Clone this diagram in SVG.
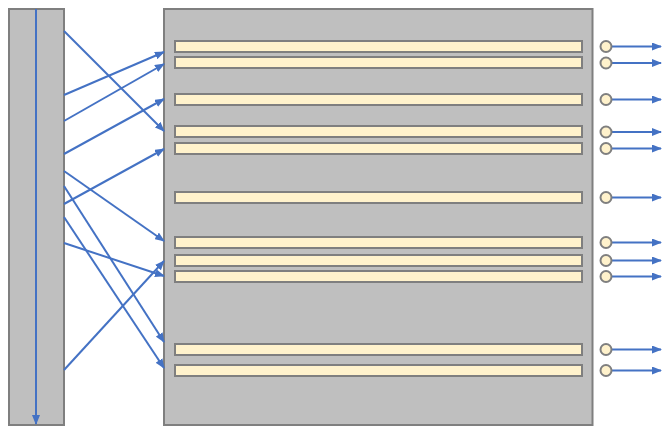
<svg xmlns="http://www.w3.org/2000/svg" width="672" height="431" viewBox="0 0 672 431">
<style>
.panel{fill:#bfbfbf;stroke:#7f7f7f;stroke-width:2}
.bar{fill:#fff2cc;stroke:#7f7f7f;stroke-width:2}
.port{fill:#fff2cc;stroke:#7f7f7f;stroke-width:2}
.wire{fill:none;stroke:#4472c4;stroke-width:2;marker-end:url(#ah)}
</style>
<defs>
<marker id="ah" markerWidth="10" markerHeight="8" refX="9" refY="4" orient="auto" markerUnits="userSpaceOnUse">
<path d="M0,0 L10,4 L0,8 Z" fill="#4472c4"/>
</marker>
</defs>
<g id="left-panel"><rect class="panel" x="9" y="9" width="55" height="416"/></g>
<g id="right-panel">
<rect class="panel" x="164" y="9" width="428.5" height="416"/>
</g>
<g id="bars">
<rect id="bar1" class="bar" x="175" y="41" width="407" height="11"/>
<rect id="bar2" class="bar" x="175" y="57" width="407" height="11"/>
<rect id="bar3" class="bar" x="175" y="94" width="407" height="11"/>
<rect id="bar4" class="bar" x="175" y="126" width="407" height="11"/>
<rect id="bar5" class="bar" x="175" y="143" width="407" height="11"/>
<rect id="bar6" class="bar" x="175" y="192" width="407" height="11"/>
<rect id="bar7" class="bar" x="175" y="237" width="407" height="11"/>
<rect id="bar8" class="bar" x="175" y="255" width="407" height="11"/>
<rect id="bar9" class="bar" x="175" y="271" width="407" height="11"/>
<rect id="bar10" class="bar" x="175" y="344" width="407" height="11"/>
<rect id="bar11" class="bar" x="175" y="365" width="407" height="11"/>
</g>
<g id="connectors">
<line class="wire" x1="36" y1="9" x2="36" y2="424"/>
<line class="wire" x1="64" y1="31" x2="164" y2="131"/>
<line class="wire" x1="64" y1="95" x2="164" y2="52"/>
<line class="wire" x1="64" y1="121" x2="164" y2="64"/>
<line class="wire" x1="64" y1="154" x2="164" y2="99"/>
<line class="wire" x1="64" y1="204" x2="164" y2="149"/>
<line class="wire" x1="64" y1="171" x2="164" y2="241"/>
<line class="wire" x1="64" y1="186" x2="164" y2="342"/>
<line class="wire" x1="64" y1="217" x2="164" y2="368"/>
<line class="wire" x1="64" y1="243" x2="164" y2="276"/>
<line class="wire" x1="64" y1="370" x2="164" y2="261"/>
<line class="wire" x1="612" y1="46.5" x2="661" y2="46.5"/>
<line class="wire" x1="612" y1="63" x2="661" y2="63"/>
<line class="wire" x1="612" y1="99.5" x2="661" y2="99.5"/>
<line class="wire" x1="612" y1="132" x2="661" y2="132"/>
<line class="wire" x1="612" y1="148.5" x2="661" y2="148.5"/>
<line class="wire" x1="612" y1="197.5" x2="661" y2="197.5"/>
<line class="wire" x1="612" y1="242.5" x2="661" y2="242.5"/>
<line class="wire" x1="612" y1="260.5" x2="661" y2="260.5"/>
<line class="wire" x1="612" y1="276.5" x2="661" y2="276.5"/>
<line class="wire" x1="612" y1="349.5" x2="661" y2="349.5"/>
<line class="wire" x1="612" y1="370.5" x2="661" y2="370.5"/>
</g>
<g id="ports">
<circle class="port" cx="606" cy="46.5" r="5.5"/>
<circle class="port" cx="606" cy="63" r="5.5"/>
<circle class="port" cx="606" cy="99.5" r="5.5"/>
<circle class="port" cx="606" cy="132" r="5.5"/>
<circle class="port" cx="606" cy="148.5" r="5.5"/>
<circle class="port" cx="606" cy="197.5" r="5.5"/>
<circle class="port" cx="606" cy="242.5" r="5.5"/>
<circle class="port" cx="606" cy="260.5" r="5.5"/>
<circle class="port" cx="606" cy="276.5" r="5.5"/>
<circle class="port" cx="606" cy="349.5" r="5.5"/>
<circle class="port" cx="606" cy="370.5" r="5.5"/>
</g>
</svg>
